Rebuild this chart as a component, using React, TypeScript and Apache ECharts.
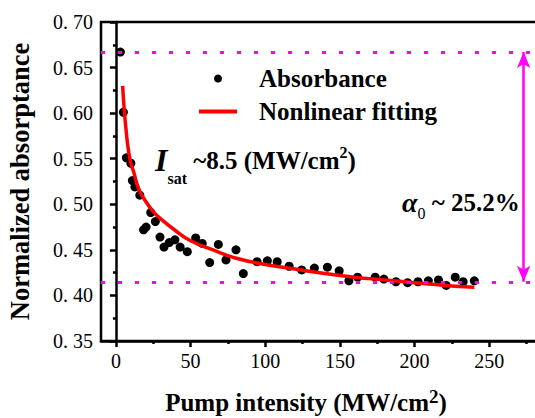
import React, { useEffect, useRef } from "react";
import * as echarts from "echarts";

const FONT = "'Liberation Serif', 'Times New Roman', 'DejaVu Serif', serif";

// Measured absorbance points (pump intensity MW/cm^2, normalized absorptance)
const absX = [3, 5, 7, 10, 11, 12.7, 16, 18.5, 20.2, 23.3, 26.4, 29.5, 32.2, 35.7, 39.5, 43, 47.8, 53.4, 57.8, 62.8, 68.6, 73.7, 80.4, 85.3, 94.5, 101.4, 108, 116, 124.4, 132.9, 141.6, 149.5, 156, 161.8, 173.6, 179.4, 187.5, 195.3, 202.3, 209.2, 216, 221.2, 227.2, 232.5, 240];
const absY = [0.667, 0.601, 0.551, 0.545, 0.526, 0.519, 0.510, 0.472, 0.475, 0.491, 0.481, 0.464, 0.453, 0.458, 0.461, 0.453, 0.448, 0.463, 0.457, 0.436, 0.456, 0.439, 0.450, 0.424, 0.437, 0.438, 0.437, 0.432, 0.428, 0.430, 0.431, 0.427, 0.416, 0.420, 0.420, 0.418, 0.415, 0.414, 0.415, 0.416, 0.417, 0.411, 0.420, 0.415, 0.416];

// Nonlinear fitting curve
const fitX = [4.5, 5.5, 7, 8.3, 10, 12, 15, 20, 25, 30, 40, 50, 65, 80, 100, 120, 140, 160, 180, 200, 220, 240];
const fitY = [0.630, 0.605, 0.578, 0.560, 0.545, 0.535, 0.518, 0.503, 0.492, 0.484, 0.471, 0.460, 0.450, 0.441, 0.434, 0.429, 0.424, 0.420, 0.417, 0.414, 0.411, 0.409];

// Reference levels
const upperLevel = 0.667;
const lowerLevel = 0.415;
const arrowX = 273;

const xMajorTicks = [0, 50, 100, 150, 200, 250];
const xMinorTicks = [25, 75, 125, 175, 225, 275];

export default function App() {
  const ref = useRef<HTMLDivElement>(null);
  useEffect(() => {
    if (!ref.current) return;
    const chart = echarts.init(ref.current, undefined, { renderer: "svg" });
    const absData = absX.map((x, i) => [x, absY[i]]);
    const fitData = fitX.map((x, i) => [x, fitY[i]]);
    chart.setOption({
      animation: false,
      backgroundColor: "#fff",
      textStyle: { fontFamily: FONT },
      grid: {
        left: 101,
        top: 22,
        bottom: 77,
        width: 448,
        show: true,
        borderColor: "#000",
        borderWidth: 2.5,
        containLabel: false,
        outerBoundsMode: "none",
      },
      legend: {
        orient: "vertical",
        left: 194,
        top: 61,
        padding: 5,
        itemWidth: 38,
        itemHeight: 8,
        itemGap: 8,
        textStyle: {
          fontFamily: FONT,
          fontWeight: "bold",
          fontSize: 25,
          color: "#000",
          padding: [0, 0, 0, 17],
        },
        data: [
          { name: "Absorbance", icon: "circle" },
          { name: "Nonlinear fitting", icon: "path://M0,0 L38,0 L38,4 L0,4 Z" },
        ],
      },
      xAxis: [
        {
          type: "value",
          min: -10,
          max: 290,
          position: "bottom",
          name: "{m|Pump intensity (MW/cm}{sup|2}{m|)}",
          nameLocation: "middle",
          nameGap: 46,
          nameTextStyle: {
            padding: [0, 38, 0, 0],
            rich: {
              m: { fontFamily: FONT, fontWeight: "bold", fontSize: 25, color: "#000" },
              sup: {
                fontFamily: FONT,
                fontWeight: "bold",
                fontSize: 19,
                color: "#000",
                padding: [0, 0, 12, 0],
              },
            },
          },
          axisLine: { show: true, lineStyle: { color: "#000", width: 2.5 } },
          axisTick: {
            show: true,
            customValues: xMajorTicks,
            length: 6,
            lineStyle: { color: "#000", width: 2.5 },
          },
          axisLabel: {
            customValues: xMajorTicks,
            fontFamily: FONT,
            fontSize: 20,
            color: "#000",
            margin: 10,
          },
          splitLine: { show: false },
        },
        {
          type: "value",
          min: -10,
          max: 290,
          position: "bottom",
          gridIndex: 0,
          axisLine: { show: false },
          axisTick: {
            show: true,
            customValues: xMinorTicks,
            length: 3,
            lineStyle: { color: "#000", width: 2.5 },
          },
          axisLabel: { show: false },
          splitLine: { show: false },
        },
      ],
      yAxis: {
        type: "value",
        min: 0.35,
        max: 0.7,
        interval: 0.05,
        name: "Normalized absorptance",
        nameLocation: "middle",
        nameGap: 68,
        nameTextStyle: { fontFamily: FONT, fontWeight: "bold", fontSize: 26.5, color: "#000" },
        axisLine: { show: true, lineStyle: { color: "#000", width: 2.5 } },
        axisTick: { show: true, length: 6, lineStyle: { color: "#000", width: 2.5 } },
        minorTick: { show: true, splitNumber: 2, length: 3, lineStyle: { color: "#000", width: 2.5 } },
        axisLabel: {
          fontFamily: FONT,
          fontSize: 20,
          color: "#000",
          margin: 8,
          formatter: (v: number) => v.toFixed(2).replace(".", ". "),
        },
        splitLine: { show: false },
      },
      series: [
        {
          name: "Absorbance",
          type: "scatter",
          data: absData,
          symbol: "circle",
          symbolSize: 9,
          itemStyle: { color: "#000", opacity: 1 },
          z: 2,
          markLine: {
            silent: true,
            symbol: "none",
            precision: 3,
            label: { show: false },
            lineStyle: { color: "#ff00ff", type: [4, 13], width: 3 },
            data: [{ yAxis: upperLevel }, { yAxis: lowerLevel }],
            z: 5,
          },
        },
        {
          name: "Nonlinear fitting",
          type: "line",
          data: fitData,
          symbol: "none",
          showSymbol: false,
          smooth: true,
          lineStyle: { color: "#ff0000", width: 3.5 },
          itemStyle: { color: "#ff0000" },
          z: 3,
        },
        {
          name: "arrow",
          type: "line",
          data: [],
          markLine: {
            silent: true,
            symbol: ["arrow", "arrow"],
            symbolSize: [10, 16],
            precision: 3,
            label: { show: false },
            lineStyle: { color: "#ff00ff", type: "solid", width: 2.5 },
            data: [[{ coord: [arrowX, upperLevel] }, { coord: [arrowX, lowerLevel] }]],
          },
        },
      ],
      graphic: [
        {
          type: "text",
          x: 155,
          y: 160,
          style: {
            text: "{i|I}{sub|sat}{m| ~8.5 (MW/cm}{sup|2}{m|)}",
            verticalAlign: "middle",
            align: "left",
            rich: {
              i: { fontFamily: FONT, fontSize: 32, fontStyle: "italic", fontWeight: "bold", fill: "#000", lineHeight: 52, verticalAlign: "middle" },
              sub: { fontFamily: FONT, fontSize: 16, fontWeight: "bold", fill: "#000", lineHeight: 16, verticalAlign: "bottom" },
              m: { fontFamily: FONT, fontSize: 25, fontWeight: "bold", fill: "#000", lineHeight: 52, verticalAlign: "middle" },
              sup: { fontFamily: FONT, fontSize: 16, fontWeight: "bold", fill: "#000", verticalAlign: "middle", padding: [0, 0, 16, 0] },
            },
          },
        },
        {
          type: "text",
          x: 402,
          y: 202,
          style: {
            text: "{a|α}{sub|0}{m| ~ 25.2%}",
            verticalAlign: "middle",
            align: "left",
            rich: {
              a: { fontFamily: FONT, fontSize: 28, fontStyle: "italic", fontWeight: "bold", fill: "#000", lineHeight: 38, verticalAlign: "middle" },
              sub: { fontFamily: FONT, fontSize: 16, fill: "#000", lineHeight: 16, verticalAlign: "bottom" },
              m: { fontFamily: FONT, fontSize: 25, fontWeight: "bold", fill: "#000", lineHeight: 38, verticalAlign: "middle" },
            },
          },
        },
      ],
    });
    return () => chart.dispose();
  }, []);
  return (
    <div
      ref={ref}
      style={{ position: "absolute", left: 0, top: 0, width: 535, height: 418, background: "#fff" }}
    />
  );
}
